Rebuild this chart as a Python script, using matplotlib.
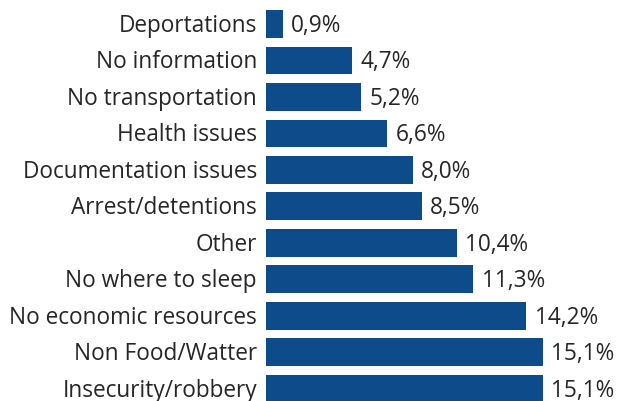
import matplotlib
matplotlib.use("Agg")
import matplotlib.pyplot as plt

categories = [
    "Insecurity/robbery",
    "Non Food/Watter",
    "No economic resources",
    "No where to sleep",
    "Other",
    "Arrest/detentions",
    "Documentation issues",
    "Health issues",
    "No transportation",
    "No information",
    "Deportations",
]
values = [15.1, 15.1, 14.2, 11.3, 10.4, 8.5, 8.0, 6.6, 5.2, 4.7, 0.9]

plt.rcParams["font.family"] = ["Open Sans", "DejaVu Sans"]

W, H = 618, 402
fig = plt.figure(figsize=(W / 100, H / 100), dpi=100)
ax = fig.add_axes([266 / W, 0, (W - 266) / W, 1])

bar_color = "#0d4b8b"
text_color = "#262626"
fs = 16.3
ypos = list(range(len(categories)))
ax.barh(ypos, values, height=0.767, color=bar_color)

# category names to the left of each bar, value labels after each bar end
for y, name, v in zip(ypos, categories, values):
    ax.annotate(name, xy=(0, y), xytext=(-6.5, -4.8),
                textcoords="offset points", va="baseline", ha="right",
                fontsize=fs, color=text_color, annotation_clip=False)
    ax.annotate(f"{v:.1f}%".replace(".", ","), xy=(v, y), xytext=(6, -4.8),
                textcoords="offset points", va="baseline", ha="left",
                fontsize=fs, color=text_color)

ax.set_xlim(0, 19.2)
ax.set_ylim(-0.329, 10.685)
ax.set_xticks([])
ax.set_yticks([])
for s in ax.spines.values():
    s.set_visible(False)

fig.savefig("out.png", dpi=100)
